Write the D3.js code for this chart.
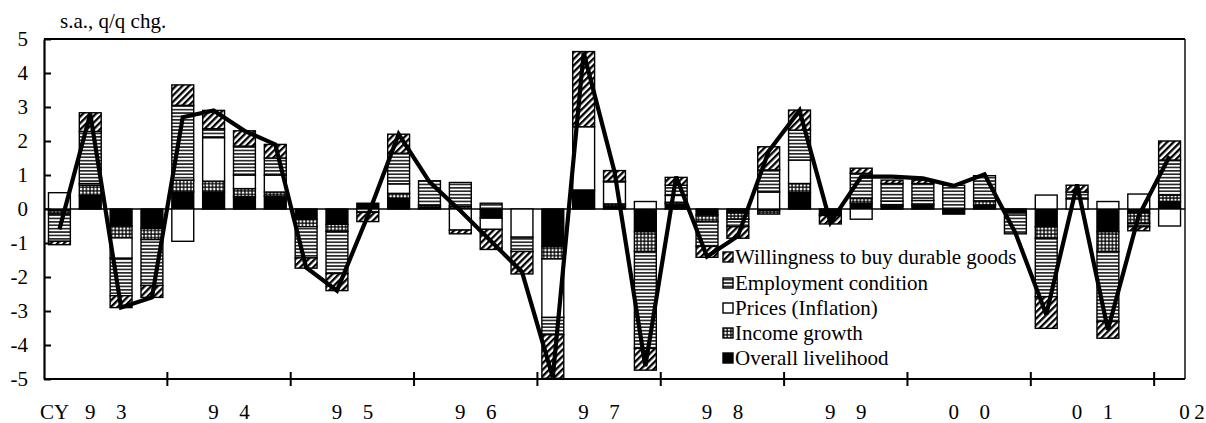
<!DOCTYPE html>
<html><head><meta charset="utf-8">
<script src="https://cdn.jsdelivr.net/npm/d3@7"></script>
<style>
body{margin:0;background:#fff}
svg{display:block}
text{font-family:"Liberation Serif","Times New Roman",serif;fill:#000}
</style>
</head><body>
<svg id="c" width="1206" height="423" font-family="'Liberation Serif','Times New Roman',serif"></svg>
<script>
// ---- data ----
const quarters = ["93Q1","93Q2","93Q3","93Q4","94Q1","94Q2","94Q3","94Q4","95Q1","95Q2","95Q3","95Q4",
  "96Q1","96Q2","96Q3","96Q4","97Q1","97Q2","97Q3","97Q4","98Q1","98Q2","98Q3","98Q4",
  "99Q1","99Q2","99Q3","99Q4","00Q1","00Q2","00Q3","00Q4","01Q1","01Q2","01Q3","01Q4","02Q1"];
const yearLabels = ["93","94","95","96","97","98","99","00","01","02"];
const seriesNames = ["Overall livelihood","Income growth","Prices (Inflation)","Employment condition","Willingness to buy durable goods"];
const overall     = [-0.05,0.40,-0.50,-0.57,0.50,0.50,0.36,0.38,-0.30,-0.45,0.17,0.31,0.05,0.03,-0.27,0.00,-1.11,0.56,0.08,-0.67,0.15,-0.18,-0.12,-0.05,0.49,-0.15,0.17,0.08,0.10,-0.15,0.12,-0.12,-0.52,0.00,-0.67,-0.12,0.22];
const income      = [-0.10,0.30,-0.35,-0.33,0.35,0.32,0.24,0.12,-0.22,-0.21,0.00,0.15,0.05,0.05,0.00,0.00,-0.36,0.00,0.07,-0.58,0.05,-0.19,-0.18,-0.10,0.26,0.00,0.14,0.05,0.05,0.00,0.12,0.00,-0.34,0.00,-0.58,-0.30,0.19];
const prices      = [0.48,0.05,-0.60,0.00,-0.95,1.28,0.40,0.50,0.00,0.00,0.00,0.28,0.00,-0.62,-0.33,-0.83,-1.72,1.86,0.65,0.22,0.20,0.00,0.00,0.50,0.69,0.00,-0.30,0.10,0.10,0.00,0.00,0.00,0.41,0.30,0.22,0.44,-0.50];
const employment  = [-0.80,1.53,-1.10,-1.35,2.20,0.26,0.85,0.50,-0.92,-1.24,-0.10,0.90,0.73,0.70,0.17,-0.42,-0.51,0.00,0.02,-2.85,0.30,-0.73,-0.22,0.65,0.88,-0.04,0.74,0.52,0.50,0.70,0.74,-0.61,-1.72,0.20,-2.06,-0.10,1.03];
const willingness = [-0.10,0.55,-0.35,-0.35,0.60,0.54,0.45,0.40,-0.30,-0.50,-0.27,0.56,0.00,-0.11,-0.59,-0.66,-1.28,2.21,0.31,-0.64,0.23,-0.32,-0.34,0.68,0.59,-0.25,0.15,0.10,0.10,0.00,0.00,0.00,-0.93,0.20,-0.49,-0.12,0.56];
const total       = [-0.60,2.80,-2.90,-2.60,2.70,2.90,2.30,1.90,-1.72,-2.40,-0.20,2.20,0.80,-0.05,-0.95,-1.85,-4.95,4.60,1.10,-4.62,0.95,-1.40,-0.80,1.70,2.90,-0.40,0.95,0.95,0.90,0.68,1.02,-0.70,-3.10,0.72,-3.55,-0.20,1.55];
const yTicks = [-5,-4,-3,-2,-1,0,1,2,3,4,5];

// ---- layout ----
const svg = d3.select("#c");
const L = 44, R = 1185, T = 39, B = 379;
const x = d3.scaleBand().domain(quarters).range([L, R]).paddingInner(0.29).paddingOuter(0.145);
const y = d3.scaleLinear().domain([-5, 5]).range([B, T]);
const FONT = "'Liberation Serif','Times New Roman',serif";

// ---- patterns ----
const defs = svg.append("defs");
const pH = defs.append("pattern").attr("id","pWill").attr("patternUnits","userSpaceOnUse")
  .attr("width",4.6).attr("height",4.6).attr("patternTransform","rotate(45)");
pH.append("rect").attr("width",4.6).attr("height",4.6).attr("fill","#fff");
pH.append("rect").attr("width",2.3).attr("height",4.6).attr("fill","#000");
const pE = defs.append("pattern").attr("id","pEmp").attr("patternUnits","userSpaceOnUse")
  .attr("width",4).attr("height",3.4);
pE.append("rect").attr("width",4).attr("height",3.4).attr("fill","#fff");
pE.append("rect").attr("width",4).attr("height",1.7).attr("fill","#2a2a2a");
const pI = defs.append("pattern").attr("id","pInc").attr("patternUnits","userSpaceOnUse")
  .attr("width",3.6).attr("height",3.6);
pI.append("rect").attr("width",3.6).attr("height",3.6).attr("fill","#000");
pI.append("rect").attr("x",0.7).attr("y",0.7).attr("width",2.3).attr("height",2.3).attr("fill","#fff");

const fills = ["#000","url(#pInc)","#fff","url(#pEmp)","url(#pWill)"];

// ---- stacked data ----
const rows = quarters.map((q,i)=>({q, s0:overall[i], s1:income[i], s2:prices[i], s3:employment[i], s4:willingness[i]}));
const keys = ["s0","s1","s2","s3","s4"];
const stack = d3.stack().keys(keys).offset(d3.stackOffsetDiverging)(rows);

// zero line
svg.append("line").attr("x1",L).attr("x2",R).attr("y1",y(0)).attr("y2",y(0))
  .attr("stroke","#000").attr("stroke-width",1.6);

// bars
stack.forEach((layer, k) => {
  svg.append("g").selectAll("rect").data(layer.filter(d => Math.abs(d[1]-d[0]) > 1e-9)).join("rect")
    .attr("x", d => x(d.data.q))
    .attr("width", x.bandwidth())
    .attr("y", d => y(Math.max(d[0], d[1])))
    .attr("height", d => Math.abs(y(d[0]) - y(d[1])))
    .attr("fill", fills[k])
    .attr("stroke", "#000").attr("stroke-width", 1.4);
});

// total line
const line = d3.line().x((d,i)=>x(quarters[i]) + x.bandwidth()/2).y(d=>y(d));
svg.append("path").datum(total).attr("d", line)
  .attr("fill","none").attr("stroke","#000").attr("stroke-width",4.2)
  .attr("stroke-linejoin","miter").attr("stroke-miterlimit",3);

// frame: top and right
svg.append("line").attr("x1",L).attr("x2",R).attr("y1",T).attr("y2",T).attr("stroke","#000").attr("stroke-width",2);
svg.append("line").attr("x1",R).attr("x2",R).attr("y1",T).attr("y2",B).attr("stroke","#000").attr("stroke-width",1.4);

// y axis
const yAxis = d3.axisLeft(y).tickValues(yTicks).tickSizeInner(-7).tickSizeOuter(0).tickPadding(16).tickFormat(d => String(d));
const gy = svg.append("g").attr("transform",`translate(${L},0)`).call(yAxis).attr("font-family",FONT);
gy.select(".domain").attr("stroke","#000").attr("stroke-width",2.2);
gy.selectAll(".tick line").attr("stroke","#000").attr("stroke-width",2);
gy.selectAll(".tick text").attr("font-size",21).attr("font-family",FONT).attr("fill","#000");

// x axis (year boundaries)
svg.append("line").attr("x1",L).attr("x2",R).attr("y1",B).attr("y2",B).attr("stroke","#000").attr("stroke-width",2.2);
const step = x.step(), off = step * x.paddingOuter();
const boundaries = d3.range(1, 10).map(k => x(quarters[4*k]) - off);
svg.append("g").selectAll("line").data(boundaries).join("line")
  .attr("x1", d=>d).attr("x2", d=>d).attr("y1", B-7).attr("y2", B+7)
  .attr("stroke","#000").attr("stroke-width",2);

// x labels
const xl = svg.append("g").attr("font-size",21).attr("font-family",FONT);
xl.append("text").attr("x",40).attr("y",419).text("CY");
yearLabels.forEach((lab, k) => {
  let cx, sp;
  if (k < 9) { cx = x(quarters[4*k]) - off + 2*step; sp = 15.5; }
  else { cx = R + 7; sp = 7.5; }
  xl.append("text").attr("x", cx - sp).attr("y",419).attr("text-anchor","middle").text(lab[0]);
  xl.append("text").attr("x", cx + sp).attr("y",419).attr("text-anchor","middle").text(lab[1]);
});

// title
svg.append("text").attr("x",60).attr("y",28).attr("font-size",21).attr("font-family",FONT).text("s.a., q/q chg.");

// legend
const legOrder = [4,3,2,1,0];
const legY = [257,283,308,333,358];
const lg = svg.append("g").attr("font-family",FONT);
legOrder.forEach((k, j) => {
  lg.append("rect").attr("x",723).attr("y",legY[j]-5).attr("width",10).attr("height",10)
    .attr("fill",fills[k]).attr("stroke","#000").attr("stroke-width",1.4);
  lg.append("text").attr("x",735).attr("y",legY[j]).attr("dy","0.35em").attr("font-size",21).text(seriesNames[k]);
});
</script>
</body></html>
